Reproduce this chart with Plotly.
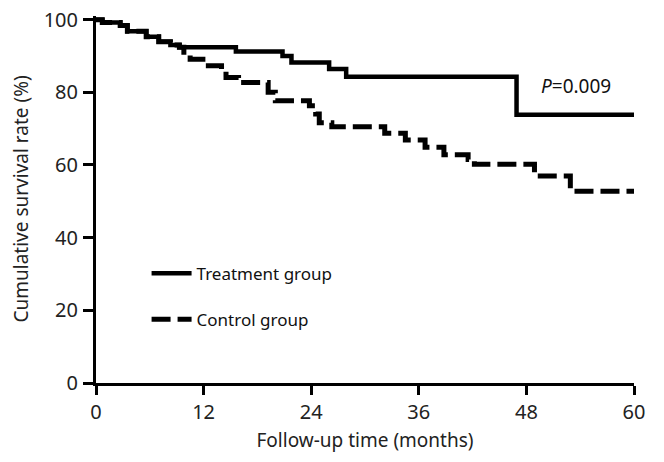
import plotly.graph_objects as go

# Kaplan-Meier step data (months, cumulative survival %)
treat_time = [0, 0.7, 2.7, 3.5, 5.6, 7.0, 8.3, 9.3, 15.6, 20.8, 21.8, 26.0, 27.9, 46.9, 60]
treat_surv = [100, 99.2, 98.4, 96.8, 95.3, 93.9, 93.0, 92.4, 91.2, 90.0, 88.2, 86.4, 84.3, 73.8, 73.8]

ctrl_time = [0, 0.7, 2.7, 3.5, 5.6, 7.0, 8.3, 9.3, 9.8, 10.5, 12.2, 14.0, 14.5, 15.9, 19.2, 20.0,
             23.8, 24.5, 24.9, 26.3, 32.2, 34.5, 36.7, 38.8, 41.5, 42.2, 48.9, 52.9, 60]
ctrl_surv = [100, 99.2, 98.4, 96.8, 95.3, 93.9, 93.0, 92.4, 90.3, 89.1, 87.3, 85.0, 84.1, 82.7, 80.0, 77.7,
             76.3, 74.0, 71.6, 70.5, 68.7, 66.9, 64.9, 62.8, 61.5, 60.2, 57.0, 52.8, 52.8]

x_ticks = [0, 12, 24, 36, 48, 60]
y_ticks = [0, 20, 40, 60, 80, 100]

FONT = "Noto Sans"

fig = go.Figure()
fig.add_trace(go.Scatter(x=treat_time, y=treat_surv, mode="lines", name="Treatment group",
                         legendgroup="t",
                         line=dict(color="black", width=4.5, shape="hv")))
fig.add_trace(go.Scatter(x=ctrl_time, y=ctrl_surv, mode="lines", name="Control group",
                         legendgroup="c",
                         line=dict(color="black", width=5, shape="hv", dash="19px,7px")))

fig.add_annotation(x=53.5, y=81.6, xref="x", yref="y", text="<i>P</i>=0.009", showarrow=False,
                   font=dict(family=FONT, size=19, color="#111"))

# y-axis title as a rotated annotation so it can sit where the reference has it
fig.add_annotation(x=0, y=0.5, xref="paper", yref="paper", xshift=-76, text="Cumulative survival rate (%)",
                   textangle=-90, showarrow=False, xanchor="center", yanchor="middle",
                   font=dict(family=FONT, size=19, color="#222"))

fig.update_layout(
    width=664, height=462,
    margin=dict(l=96, r=30, t=16.4, b=79),
    paper_bgcolor="white", plot_bgcolor="white",
    font=dict(family=FONT, size=20, color="#222"),
    showlegend=True,
    legend=dict(x=0.094, y=0.347, xanchor="left", yanchor="top", bgcolor="rgba(0,0,0,0)",
                font=dict(family=FONT, size=17, color="#111"), tracegroupgap=21,
                itemwidth=40, traceorder="grouped"),
    xaxis=dict(range=[0, 60], tickvals=x_ticks, ticktext=[str(v) for v in x_ticks],
               automargin=False, ticklabeloverflow="allow",
               showline=True, linewidth=3, linecolor="black", ticks="outside", ticklen=9,
               tickwidth=3, tickcolor="black", showgrid=False, zeroline=False,
               ticklabelstandoff=0,
               title=dict(text="Follow-up time (months)", font=dict(size=19), standoff=10)),
    yaxis=dict(range=[0, 101], tickvals=y_ticks, ticktext=[str(v) for v in y_ticks],
               automargin=False, ticklabeloverflow="allow",
               showline=True, linewidth=3, linecolor="black", ticks="outside", ticklen=10,
               tickwidth=3, tickcolor="black", showgrid=False, zeroline=False,
               ticklabelstandoff=1),
)

fig.write_html("out.html", config={"displayModeBar": False},
               post_script="document.body.style.margin='0px';document.body.style.overflow='hidden';")
